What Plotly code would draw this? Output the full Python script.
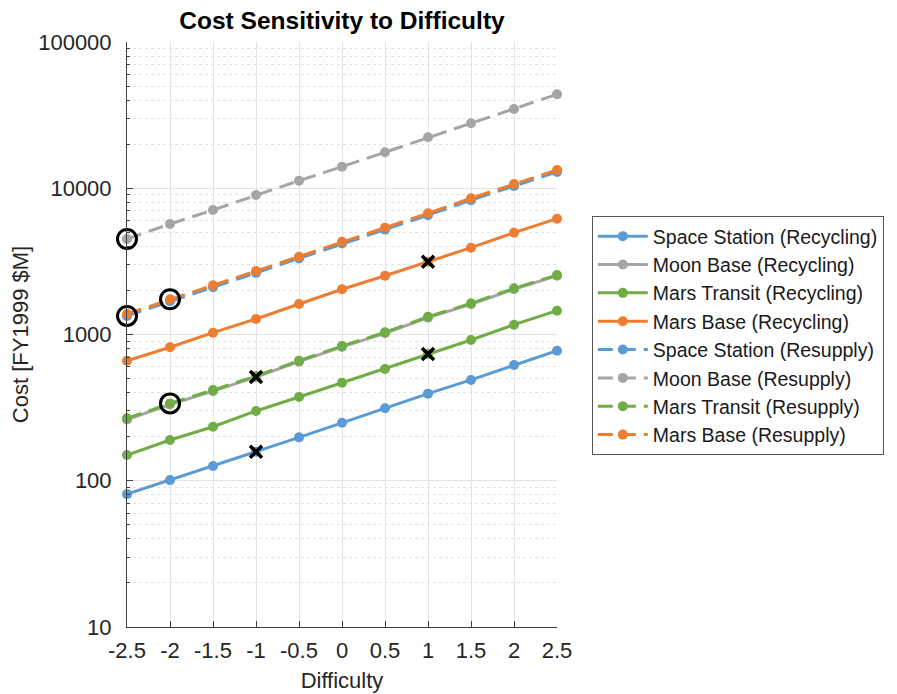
import plotly.graph_objects as go

difficulty = [-2.5, -2.0, -1.5, -1.0, -0.5, 0.0, 0.5, 1.0, 1.5, 2.0, 2.5]

space_station_recycling = [81, 101, 126, 158, 198, 249, 313, 394, 489, 619, 775]
moon_base_recycling = [262, 332, 410, 512, 652, 822, 1020, 1305, 1610, 2040, 2520]
mars_transit_recycling = [150, 190, 234, 300, 374, 468, 581, 736, 917, 1167, 1455]
mars_base_recycling = [662, 818, 1029, 1276, 1616, 2038, 2523, 3146, 3923, 4968, 6193]
space_station_resupply = [1340, 1690, 2105, 2640, 3305, 4185, 5215, 6540, 8285, 10380, 12930]
moon_base_resupply = [4498, 5696, 7101, 8991, 11261, 14043, 17613, 22307, 27806, 34834, 43890]
mars_transit_resupply = [267, 338, 417, 520, 662, 834, 1035, 1323, 1634, 2069, 2552]
mars_base_resupply = [1381, 1741, 2170, 2718, 3404, 4311, 5374, 6742, 8539, 10692, 13328]

series_names = [
    "Space Station (Recycling)", "Moon Base (Recycling)", "Mars Transit (Recycling)", "Mars Base (Recycling)",
    "Space Station (Resupply)", "Moon Base (Resupply)", "Mars Transit (Resupply)", "Mars Base (Resupply)",
]
series_values = [
    space_station_recycling, moon_base_recycling, mars_transit_recycling, mars_base_recycling,
    space_station_resupply, moon_base_resupply, mars_transit_resupply, mars_base_resupply,
]
series_colors = ["#5B9BD5", "#A5A5A5", "#70AD47", "#ED7D31"] * 2
series_dash = ["solid"] * 4 + ["15px,8px"] * 4

# highlighted points: (series index, difficulty)
circle_points = [(5, -2.5), (4, -2.5), (7, -2.0), (6, -2.0)]
cross_points = [(0, -1.0), (1, -1.0), (2, 1.0), (3, 1.0)]

y_tick_vals = [10, 100, 1000, 10000, 100000]
y_tick_text = ["10", "100", "1000", "10000", "100000"]
x_tick_vals = difficulty
x_tick_text = ["-2.5", "-2", "-1.5", "-1", "-0.5", "0", "0.5", "1", "1.5", "2", "2.5"]

FONT = "Arial, Liberation Sans, sans-serif"

fig = go.Figure()
draw_order = [1, 6, 0, 2, 3, 4, 7, 5]
for i in draw_order:
    fig.add_trace(go.Scatter(
        x=difficulty, y=series_values[i], name=series_names[i], mode="lines+markers",
        line=dict(color=series_colors[i], width=3, dash=series_dash[i]),
        marker=dict(color=series_colors[i], size=10, symbol="circle"),
        legendrank=i + 1, cliponaxis=False,
    ))

cx = [d for s, d in circle_points]
cy = [series_values[s][difficulty.index(d)] for s, d in circle_points]
fig.add_trace(go.Scatter(x=cx, y=cy, mode="markers", showlegend=False, cliponaxis=False,
                         marker=dict(symbol="circle-open", size=19, color="black", line=dict(width=3, color="black"))))
xx = [d for s, d in cross_points]
xy = [series_values[s][difficulty.index(d)] for s, d in cross_points]
fig.add_trace(go.Scatter(x=xx, y=xy, mode="markers", showlegend=False, cliponaxis=False,
                         marker=dict(symbol="x-thin", size=12, color="black", line=dict(width=3.5, color="black"))))

minor_vals = [m * 10 ** e for e in range(1, 5) for m in range(2, 10)]

# page body has an 8px margin; figure is sized so the plot lands where the reference has it
fig.update_layout(
    width=889, height=686,
    margin=dict(l=119, r=340, t=34, b=67, autoexpand=False),
    paper_bgcolor="white", plot_bgcolor="white",
    font=dict(family=FONT, size=20, color="#262626"),
    title=dict(text="<b>Cost Sensitivity to Difficulty</b>", x=(119 + 549) / 2 / 889, xanchor="center",
               y=1 - 12 / 686, yanchor="middle", font=dict(size=24.5, color="black")),
    legend=dict(x=1.081, y=0.7026, xanchor="left", yanchor="top", bgcolor="white",
                bordercolor="#555555", borderwidth=1, font=dict(size=19.5, color="#1a1a1a"),
                itemwidth=50, tracegroupgap=0),
    showlegend=True,
)
fig.update_xaxes(
    range=[-2.5, 2.5], tickvals=x_tick_vals, ticktext=x_tick_text,
    showgrid=True, gridcolor="#e3e3e3", gridwidth=1, zeroline=False,
    showline=True, linecolor="#404040", linewidth=1, mirror=False,
    ticks="inside", ticklen=6, tickcolor="#404040", ticklabelstandoff=4,
    tickfont=dict(size=22, color="#262626"),
    title=dict(text="Difficulty", font=dict(size=22, color="#262626"), standoff=10),
)
fig.update_yaxes(
    type="log", range=[1, 5], tickvals=y_tick_vals, ticktext=y_tick_text,
    showgrid=True, gridcolor="#e3e3e3", gridwidth=1, zeroline=False,
    showline=True, linecolor="#404040", linewidth=1, mirror=False,
    ticks="inside", ticklen=6, tickcolor="#404040", ticklabelstandoff=10,
    tickfont=dict(size=22, color="#262626"),
    minor=dict(tickvals=minor_vals, ticks="inside", ticklen=3, tickcolor="#404040",
               showgrid=True, gridcolor="#e4e4e4", griddash="dot", gridwidth=1),
    title=dict(text="Cost [FY1999 $M]", font=dict(size=22, color="#262626"), standoff=14),
)

fig.write_html("out.html")
